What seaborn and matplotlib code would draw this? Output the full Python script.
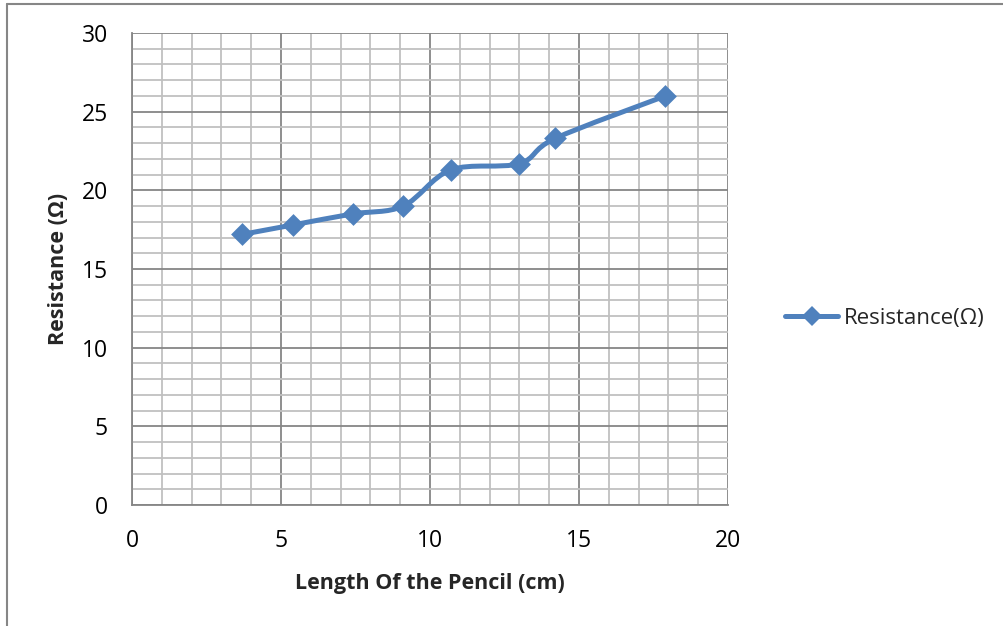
import numpy as np
import pandas as pd
import matplotlib
matplotlib.use("Agg")
import matplotlib.pyplot as plt
import seaborn as sns
from matplotlib.path import Path
from matplotlib.patches import PathPatch
from matplotlib.lines import Line2D
from matplotlib.ticker import MultipleLocator

# ---- data ----
length_cm = [3.7, 5.4, 7.4, 9.1, 10.7, 13.0, 14.2, 17.9]
resistance = [17.2, 17.8, 18.5, 19.0, 21.3, 21.7, 23.3, 26.0]
series_name = "Resistance(Ω)"
x_label = "Length Of the Pencil (cm)"
y_label = "Resistance (Ω)"
x_ticks = [0, 5, 10, 15, 20]
y_ticks = [0, 5, 10, 15, 20, 25, 30]

df = pd.DataFrame({"x": length_cm, "y": resistance})

sns.set_theme(style="white")
plt.rcParams["font.family"] = ["Open Sans", "DejaVu Sans"]

BLUE = "#4F81BD"
MAJ = "#868686"
MIN = "#C0C0C0"

fig = plt.figure(figsize=(10.04, 6.26), dpi=100)
ax = fig.add_axes([132/1004, 1-505/626, (728-132)/1004, (505-33)/626])

ax.set_xlim(0, 20)
ax.set_ylim(0, 30)
ax.xaxis.set_minor_locator(MultipleLocator(1))
ax.yaxis.set_minor_locator(MultipleLocator(1))
ax.set_xticks(x_ticks)
ax.set_yticks(y_ticks)
ax.grid(which="minor", color=MIN, linewidth=1.3, zorder=0)
ax.grid(which="major", color=MAJ, linewidth=1.3, zorder=0)
ax.set_axisbelow(True)

for s in ["top", "right"]:
    ax.spines[s].set_visible(False)
for s in ["left", "bottom"]:
    ax.spines[s].set_color(MAJ)
    ax.spines[s].set_linewidth(1.3)

ax.tick_params(which="major", direction="out", length=6.5, width=1.3, color=MAJ,
               labelsize=16.5, pad=11, labelcolor="black")
ax.tick_params(which="minor", length=0)
ax.tick_params(axis="x", pad=11)

# smoothed line (Excel-style Catmull-Rom bezier) through data points
x = np.asarray(df["x"], float)
y = np.asarray(df["y"], float)
P = np.column_stack([x, y])
verts = [P[0]]
codes = [Path.MOVETO]
n = len(P)
for i in range(n - 1):
    p0 = P[i - 1] if i > 0 else P[i]
    p1 = P[i]
    p2 = P[i + 1]
    p3 = P[i + 2] if i + 2 < n else P[i + 1]
    c1 = p1 + (p2 - p0) / 6.0
    c2 = p2 - (p3 - p1) / 6.0
    verts += [c1, c2, p2]
    codes += [Path.CURVE4] * 3
ax.add_patch(PathPatch(Path(verts, codes), facecolor="none", edgecolor=BLUE,
                       linewidth=3.6, capstyle="round", joinstyle="round", zorder=3))

sns.scatterplot(data=df, x="x", y="y", ax=ax, marker="D", s=135, color=BLUE,
                edgecolor=BLUE, linewidth=0, zorder=4, legend=False)

ax.set_xlabel(x_label, fontsize=15.5, fontweight="bold", labelpad=14)
ax.set_ylabel(y_label, fontsize=15.5, fontweight="bold", labelpad=9)

handle = Line2D([], [], color=BLUE, linewidth=3.6, marker="D", markersize=10.5,
                markeredgewidth=0)
fig.legend([handle], [series_name], loc="center left",
           bbox_to_anchor=(774/1004, 1-318/626), frameon=False, fontsize=16,
           handlelength=2.4, handletextpad=0.25, borderpad=0)

# chart-area border (top and left)
fig.add_artist(Line2D([7/1004, 7/1004], [0, 1-4/626], transform=fig.transFigure,
                      color=MAJ, linewidth=1.5))
fig.add_artist(Line2D([7/1004, 1], [1-4/626, 1-4/626], transform=fig.transFigure,
                      color=MAJ, linewidth=1.5))

fig.savefig("out.png", dpi=100, facecolor="white")
